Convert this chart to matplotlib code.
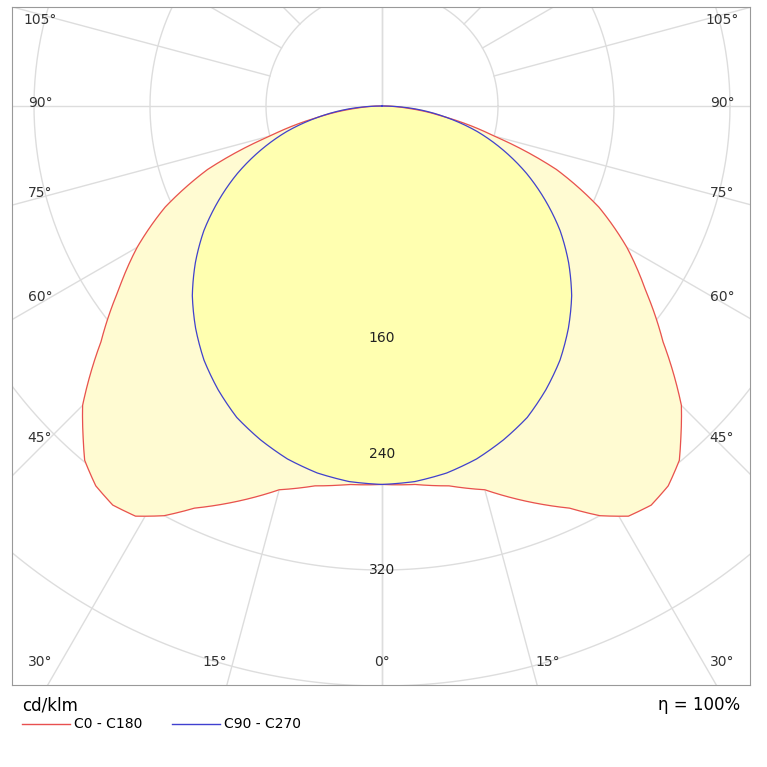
import numpy as np
import matplotlib
matplotlib.use("Agg")
import matplotlib.pyplot as plt

# C0-C180 intensities (cd/klm) vs gamma angle (deg)
ang_c0 = [0, 5, 10, 15, 20, 25, 28, 31, 34, 37, 40, 42, 45, 50, 55, 60, 65, 70, 75, 80, 85, 90]
val_c0 = [261, 262, 266, 274, 290, 306, 320, 330, 332, 328, 319, 308, 292, 253, 222, 195, 165, 128, 80, 45, 18, 0]
# C90-C270
ang_c90 = [0, 5, 10, 15, 20, 25, 30, 35, 40, 45, 50, 55, 60, 65, 70, 75, 80, 85, 90]
val_c90 = [261, 260, 257, 252, 245, 237, 226, 214, 200, 185, 168, 150, 130, 110, 89, 68, 45, 23, 0]
rings = [80, 160, 240, 320, 400, 480, 560]
ring_labels = [160, 240, 320]

def xy(a, r, side=1):
    t = np.radians(np.asarray(a, float))
    return side * np.asarray(r) * np.sin(t), -np.asarray(r) * np.cos(t)

fig = plt.figure(figsize=(7.67, 7.67), dpi=100)
ax = fig.add_axes([12/767, 82/767, 738/767, 678/767])
k = 116/80.0
ax.set_xlim((12-382)/k, (750-382)/k)
ax.set_ylim(-(685-106)/k, (106-7)/k)
ax.set_xticks([]); ax.set_yticks([])
for s in ax.spines.values():
    s.set_color("#999999")

th = np.linspace(0, 2*np.pi, 400)
for r in rings:
    ax.plot(r*np.cos(th), r*np.sin(th), color="#dddddd", lw=1, zorder=1)
for a in range(0, 181, 15):
    for sd in (1, -1):
        x, y = xy([a, a], [80 if a % 90 else 0, 800], sd)
        ax.plot(x, y, color="#dddddd", lw=1, zorder=1)

def curve(angs, vals):
    a = np.linspace(0, 90, 361)
    v = np.interp(a, angs, vals)
    xr, yr = xy(a, v, 1)
    xl, yl = xy(a[::-1], v[::-1], -1)
    return np.concatenate([xl, xr]), np.concatenate([yl, yr])

x0, y0 = curve(ang_c0, val_c0)
x9, y9 = curve(ang_c90, val_c90)
ax.fill(x0, y0, color="#fffbd2", zorder=2)
ax.fill(x9, y9, color="#ffffb0", zorder=3)
ax.plot(x0, y0, color="#e85050", lw=0.9, zorder=4)
ax.plot(x9, y9, color="#4040d0", lw=0.9, zorder=5)

for r in ring_labels:
    ax.text(0, -r, str(r), ha="center", va="center", fontsize=10, color="#222222", zorder=6)

def px(x, y):
    return (x-382)/k, (106-y)/k
lab_pos = {105: 20, 90: 103, 75: 193, 60: 297, 45: 438}
for a, yp in lab_pos.items():
    ax.text(*px(40, yp), f"{a}°", ha="center", va="center", fontsize=10, color="#333333", zorder=6)
    ax.text(*px(722, yp), f"{a}°", ha="center", va="center", fontsize=10, color="#333333", zorder=6)
for a, xp in [(30, 40), (15, 215), (0, 382), (15, 548), (30, 722)]:
    ax.text(*px(xp, 662), f"{a}°", ha="center", va="center", fontsize=10, color="#333333", zorder=6)

fig.text(22/767, 1-705/767, "cd/klm", fontsize=12, va="center", ha="left")
fig.text(740/767, 1-705/767, "η = 100%", fontsize=12, va="center", ha="right")
fig.lines.append(plt.Line2D([22/767, 70/767], [1-724/767]*2, color="#e85050", lw=1, transform=fig.transFigure))
fig.text(74/767, 1-724/767, "C0 - C180", fontsize=10, va="center")
fig.lines.append(plt.Line2D([172/767, 220/767], [1-724/767]*2, color="#4040d0", lw=1, transform=fig.transFigure))
fig.text(224/767, 1-724/767, "C90 - C270", fontsize=10, va="center")
fig.savefig("out.png", dpi=100)
